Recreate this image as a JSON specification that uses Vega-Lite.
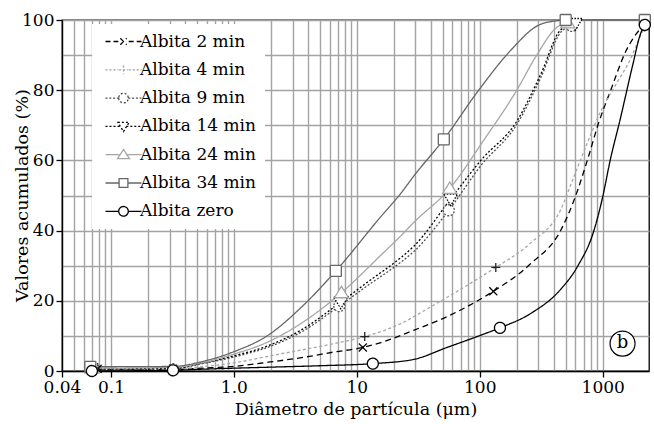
{
  "$schema": "https://vega.github.io/schema/vega-lite/v6.json",
  "width": 587,
  "height": 351,
  "autosize": "none",
  "padding": {"left": 62, "top": 20, "right": 5, "bottom": 53},
  "background": "white",
  "config": {
    "font": "DejaVu Serif",
    "view": {"stroke": "black", "strokeWidth": 1.3},
    "legend": {
      "orient": "none",
      "legendX": 30,
      "legendY": 4,
      "fillColor": "white",
      "padding": 9,
      "labelFont": "DejaVu Serif",
      "labelFontSize": 17,
      "labelColor": "black",
      "symbolSize": 64,
      "symbolStrokeWidth": 1.3,
      "symbolOpacity": 1,
      "labelOffset": 22,
      "rowPadding": 10.3
    }
  },
  "datasets": {
    "curves": [
      {"s":"Albita 2 min","d":0.078,"v":0.5},{"s":"Albita 2 min","d":0.32,"v":0.4},{"s":"Albita 2 min","d":0.54,"v":0.8},{"s":"Albita 2 min","d":1,"v":1.3},{"s":"Albita 2 min","d":1.9,"v":2.5},{"s":"Albita 2 min","d":4,"v":4.1},{"s":"Albita 2 min","d":6.5,"v":5.4},{"s":"Albita 2 min","d":11.2,"v":6.7},{"s":"Albita 2 min","d":15.7,"v":8.1},{"s":"Albita 2 min","d":29,"v":11.6},{"s":"Albita 2 min","d":55,"v":15.6},{"s":"Albita 2 min","d":96,"v":20},{"s":"Albita 2 min","d":129,"v":22.7},{"s":"Albita 2 min","d":260,"v":30.6},{"s":"Albita 2 min","d":456,"v":40.1},{"s":"Albita 2 min","d":585,"v":48.7},{"s":"Albita 2 min","d":751,"v":60.1},{"s":"Albita 2 min","d":933,"v":71},{"s":"Albita 2 min","d":1162,"v":80},{"s":"Albita 2 min","d":1538,"v":91},{"s":"Albita 2 min","d":2037,"v":97.6},{"s":"Albita 2 min","d":2200,"v":98.8},
      {"s":"Albita 4 min","d":0.075,"v":0.6},{"s":"Albita 4 min","d":0.32,"v":0.5},{"s":"Albita 4 min","d":0.54,"v":1.2},{"s":"Albita 4 min","d":1,"v":2.3},{"s":"Albita 4 min","d":1.9,"v":4.2},{"s":"Albita 4 min","d":6.5,"v":7.8},{"s":"Albita 4 min","d":11.6,"v":9.8},{"s":"Albita 4 min","d":22.8,"v":13.5},{"s":"Albita 4 min","d":40,"v":18.3},{"s":"Albita 4 min","d":102,"v":26.8},{"s":"Albita 4 min","d":135,"v":29.5},{"s":"Albita 4 min","d":260,"v":36.5},{"s":"Albita 4 min","d":456,"v":46},{"s":"Albita 4 min","d":585,"v":55.5},{"s":"Albita 4 min","d":750,"v":65},{"s":"Albita 4 min","d":964,"v":74},{"s":"Albita 4 min","d":1300,"v":82},{"s":"Albita 4 min","d":1690,"v":89},{"s":"Albita 4 min","d":2000,"v":95},{"s":"Albita 4 min","d":2200,"v":98},
      {"s":"Albita 9 min","d":0.07,"v":0.3},{"s":"Albita 9 min","d":0.32,"v":0.6},{"s":"Albita 9 min","d":0.54,"v":2},{"s":"Albita 9 min","d":1,"v":4},{"s":"Albita 9 min","d":1.9,"v":6.8},{"s":"Albita 9 min","d":3.5,"v":11},{"s":"Albita 9 min","d":7.2,"v":18.5},{"s":"Albita 9 min","d":12.2,"v":24.3},{"s":"Albita 9 min","d":22.8,"v":31},{"s":"Albita 9 min","d":29,"v":34},{"s":"Albita 9 min","d":56,"v":45.8},{"s":"Albita 9 min","d":102,"v":58.5},{"s":"Albita 9 min","d":203,"v":70.6},{"s":"Albita 9 min","d":313,"v":83.5},{"s":"Albita 9 min","d":456,"v":96.5},{"s":"Albita 9 min","d":560,"v":98.3},
      {"s":"Albita 14 min","d":0.07,"v":0.6},{"s":"Albita 14 min","d":0.32,"v":0.7},{"s":"Albita 14 min","d":0.54,"v":2.2},{"s":"Albita 14 min","d":1,"v":4.3},{"s":"Albita 14 min","d":1.9,"v":7.2},{"s":"Albita 14 min","d":3.5,"v":11.6},{"s":"Albita 14 min","d":7.4,"v":19.6},{"s":"Albita 14 min","d":12.2,"v":25.3},{"s":"Albita 14 min","d":22.8,"v":32.3},{"s":"Albita 14 min","d":29,"v":35.5},{"s":"Albita 14 min","d":58,"v":49},{"s":"Albita 14 min","d":102,"v":60},{"s":"Albita 14 min","d":203,"v":71.5},{"s":"Albita 14 min","d":313,"v":84.5},{"s":"Albita 14 min","d":456,"v":97.2},{"s":"Albita 14 min","d":600,"v":99},
      {"s":"Albita 24 min","d":0.07,"v":0.8},{"s":"Albita 24 min","d":0.32,"v":1},{"s":"Albita 24 min","d":0.54,"v":2.3},{"s":"Albita 24 min","d":1,"v":4.8},{"s":"Albita 24 min","d":1.9,"v":8.3},{"s":"Albita 24 min","d":3.5,"v":13.5},{"s":"Albita 24 min","d":7.5,"v":22.3},{"s":"Albita 24 min","d":15.7,"v":33},{"s":"Albita 24 min","d":22.8,"v":38.5},{"s":"Albita 24 min","d":29,"v":42.3},{"s":"Albita 24 min","d":57,"v":52},{"s":"Albita 24 min","d":108,"v":65.8},{"s":"Albita 24 min","d":200,"v":80},{"s":"Albita 24 min","d":285,"v":89.5},{"s":"Albita 24 min","d":427,"v":98},{"s":"Albita 24 min","d":520,"v":99.2},
      {"s":"Albita 34 min","d":0.068,"v":1.2},{"s":"Albita 34 min","d":0.32,"v":1.3},{"s":"Albita 34 min","d":0.54,"v":2.6},{"s":"Albita 34 min","d":1,"v":5.5},{"s":"Albita 34 min","d":1.9,"v":10.2},{"s":"Albita 34 min","d":3.5,"v":18},{"s":"Albita 34 min","d":6.75,"v":28.5},{"s":"Albita 34 min","d":15.7,"v":44},{"s":"Albita 34 min","d":22.8,"v":50.6},{"s":"Albita 34 min","d":29,"v":55.5},{"s":"Albita 34 min","d":51,"v":66},{"s":"Albita 34 min","d":98,"v":80},{"s":"Albita 34 min","d":179,"v":91.4},{"s":"Albita 34 min","d":300,"v":98.5},{"s":"Albita 34 min","d":427,"v":99.8},{"s":"Albita 34 min","d":500,"v":100},{"s":"Albita 34 min","d":2200,"v":100},
      {"s":"Albita zero","d":0.07,"v":0},{"s":"Albita zero","d":0.32,"v":0.2},{"s":"Albita zero","d":0.54,"v":0.5},{"s":"Albita zero","d":1,"v":0.8},{"s":"Albita zero","d":2,"v":1.1},{"s":"Albita zero","d":5,"v":1.5},{"s":"Albita zero","d":13.5,"v":2.1},{"s":"Albita zero","d":29,"v":3.3},{"s":"Albita zero","d":55,"v":6.8},{"s":"Albita zero","d":102,"v":10.2},{"s":"Albita zero","d":146,"v":12.3},{"s":"Albita zero","d":260,"v":16.4},{"s":"Albita zero","d":456,"v":23.3},{"s":"Albita zero","d":622,"v":29.7},{"s":"Albita zero","d":850,"v":40.1},{"s":"Albita zero","d":1000,"v":49.6},{"s":"Albita zero","d":1150,"v":60},{"s":"Albita zero","d":1383,"v":71.5},{"s":"Albita zero","d":1742,"v":86.7},{"s":"Albita zero","d":2037,"v":96.2},{"s":"Albita zero","d":2200,"v":98.6}
    ],
    "markers": [
      {"s":"Albita 2 min","d":0.078,"v":0.6},{"s":"Albita 2 min","d":0.32,"v":0.4},{"s":"Albita 2 min","d":11.2,"v":6.7},{"s":"Albita 2 min","d":129,"v":22.7},{"s":"Albita 2 min","d":2200,"v":98.8},
      {"s":"Albita 4 min","d":0.075,"v":0.6},{"s":"Albita 4 min","d":0.32,"v":0.5},{"s":"Albita 4 min","d":11.6,"v":9.8},{"s":"Albita 4 min","d":135,"v":29.5},{"s":"Albita 4 min","d":2200,"v":98},
      {"s":"Albita 9 min","d":0.07,"v":0.3},{"s":"Albita 9 min","d":0.32,"v":0.5},{"s":"Albita 9 min","d":7.2,"v":18.5},{"s":"Albita 9 min","d":56,"v":45.8},{"s":"Albita 9 min","d":560,"v":98.3},
      {"s":"Albita 14 min","d":0.07,"v":0.6},{"s":"Albita 14 min","d":7.4,"v":19.6},{"s":"Albita 14 min","d":58,"v":49},{"s":"Albita 14 min","d":600,"v":99},
      {"s":"Albita 24 min","d":0.07,"v":0.8},{"s":"Albita 24 min","d":7.5,"v":22.3},{"s":"Albita 24 min","d":57,"v":52},{"s":"Albita 24 min","d":520,"v":99.2},
      {"s":"Albita 34 min","d":0.068,"v":1.2},{"s":"Albita 34 min","d":6.75,"v":28.5},{"s":"Albita 34 min","d":51,"v":66},{"s":"Albita 34 min","d":500,"v":100},{"s":"Albita 34 min","d":2200,"v":100},
      {"s":"Albita zero","d":0.07,"v":0},{"s":"Albita zero","d":0.32,"v":0.2},{"s":"Albita zero","d":13.5,"v":2.1},{"s":"Albita zero","d":146,"v":12.3},{"s":"Albita zero","d":2200,"v":98.6}
    ],
    "note": [{"d":1450,"v":7.8,"t":"b"}]
  },
  "encoding": {
    "x": {
      "field": "d", "type": "quantitative",
      "scale": {"type": "log", "domain": [0.04, 2380], "nice": false},
      "axis": {
        "values": [0.04,0.05,0.06,0.07,0.08,0.09,0.1,0.2,0.3,0.4,0.5,0.6,0.7,0.8,0.9,1,2,3,4,5,6,7,8,9,10,20,30,40,50,60,70,80,90,100,200,300,400,500,600,700,800,900,1000],
        "title": "Diâmetro de partícula (μm)",
        "labelExpr": "datum.value == 0.04 ? '0.04' : datum.value == 0.1 ? '0.1' : datum.value == 1 ? '1.0' : datum.value == 10 ? '10' : datum.value == 100 ? '100' : datum.value == 1000 ? '1000' : ''",
        "grid": true, "gridColor": "#a3a3a3", "gridWidth": 1.4,
        "domainColor": "black", "domainWidth": 1.3,
        "tickColor": "black", "tickWidth": 1.3, "tickSize": 6,
        "tickOpacity": {"condition": {"test": "datum.value == 0.04 || datum.value == 0.1 || datum.value == 1 || datum.value == 10 || datum.value == 100 || datum.value == 1000", "value": 1}, "value": 0},
        "labelFont": "DejaVu Serif", "labelFontSize": 17, "labelColor": "black", "labelPadding": 2,
        "labelFlush": false, "labelOverlap": false,
        "titleFont": "DejaVu Serif", "titleFontSize": 17.5, "titleFontWeight": "normal", "titleColor": "black", "titlePadding": 5
      }
    },
    "y": {
      "field": "v", "type": "quantitative",
      "scale": {"domain": [0, 100], "nice": false},
      "axis": {
        "values": [0,10,20,30,40,50,60,70,80,90,100],
        "title": "Valores acumulados (%)",
        "labelExpr": "datum.value % 20 == 0 ? datum.label : ''",
        "grid": true, "gridColor": "#a3a3a3", "gridWidth": 1.4,
        "domainColor": "black", "domainWidth": 1.3,
        "tickColor": "black", "tickWidth": 1.3, "tickSize": 6,
        "tickOpacity": {"condition": {"test": "datum.value % 20 == 0", "value": 1}, "value": 0},
        "labelFont": "DejaVu Serif", "labelFontSize": 17, "labelColor": "black", "labelPadding": 2,
        "labelFlush": false, "labelOverlap": false,
        "titleFont": "DejaVu Serif", "titleFontSize": 17.5, "titleFontWeight": "normal", "titleColor": "black",
        "titleAngle": 270, "titleBaseline": "middle", "titleAlign": "center", "titleX": -40, "titleY": 175
      }
    }
  },
  "layer": [
    {
      "data": {"name": "curves"},
      "mark": {"type": "line", "interpolate": "monotone", "strokeWidth": 1.3},
      "encoding": {
        "color": {"field": "s", "type": "nominal", "legend": null,
          "scale": {"domain": ["Albita 2 min","Albita 4 min","Albita 9 min","Albita 14 min","Albita 24 min","Albita 34 min","Albita zero"],
                    "range": ["#000000","#a6a6a6","#4d4d4d","#000000","#a6a6a6","#666666","#000000"]}},
        "strokeDash": {"field": "s", "type": "nominal", "legend": null,
          "scale": {"domain": ["Albita 2 min","Albita 4 min","Albita 9 min","Albita 14 min","Albita 24 min","Albita 34 min","Albita zero"],
                    "range": [[6,4],[3,2.5],[2,1.8],[2,2],[1,0],[1,0],[1,0]]}}
      }
    },
    {
      "data": {"name": "markers"},
      "mark": {"type": "point", "filled": false, "fill": "white", "strokeWidth": 1.3, "size": 100, "opacity": 1},
      "encoding": {
        "color": {"field": "s", "type": "nominal", "legend": null,
          "scale": {"domain": ["Albita 2 min","Albita 4 min","Albita 9 min","Albita 14 min","Albita 24 min","Albita 34 min","Albita zero"],
                    "range": ["#000000","#222222","#555555","#000000","#a6a6a6","#666666","#000000"]}},
        "shape": {"field": "s", "type": "nominal", "legend": null,
          "scale": {"domain": ["Albita 2 min","Albita 4 min","Albita 9 min","Albita 14 min","Albita 24 min","Albita 34 min","Albita zero"],
                    "range": ["M-0.8,-0.8L0.8,0.8M-0.8,0.8L0.8,-0.8","M-0.9,0L0.9,0M0,-0.9L0,0.9","M-1.1,0A1.1,1.1 0 1,0 1.1,0A1.1,1.1 0 1,0 -1.1,0","M-1.4,-1L1.4,-1L0,1.3Z","M0,-1.3L1.4,1L-1.4,1Z","M-1.1,-1.1L1.1,-1.1L1.1,1.1L-1.1,1.1Z","M-1.1,0A1.1,1.1 0 1,0 1.1,0A1.1,1.1 0 1,0 -1.1,0"]}},
        "strokeDash": {"field": "s", "type": "nominal", "legend": null,
          "scale": {"domain": ["Albita 2 min","Albita 4 min","Albita 9 min","Albita 14 min","Albita 24 min","Albita 34 min","Albita zero"],
                    "range": [[1,0],[1,0],[2,1.5],[1.5,1.5],[1,0],[1,0],[1,0]]}}
      }
    },
    {
      "data": {"name": "markers"},
      "mark": {"type": "point", "filled": false, "opacity": 0},
      "encoding": {
        "color": {"field": "s", "type": "nominal", "legend": {"title": null, "symbolOpacity": 1},
          "scale": {"domain": ["Albita 2 min","Albita 4 min","Albita 9 min","Albita 14 min","Albita 24 min","Albita 34 min","Albita zero"],
                    "range": ["#000000","#999999","#4d4d4d","#000000","#a6a6a6","#666666","#000000"]}},
        "shape": {"field": "s", "type": "nominal", "legend": {"title": null, "symbolOpacity": 1},
          "scale": {"domain": ["Albita 2 min","Albita 4 min","Albita 9 min","Albita 14 min","Albita 24 min","Albita 34 min","Albita zero"],
                    "range": [
                      "M-1,0L2.2,0M4.8,0L8,0M2.7,-0.8L4.3,0.8M2.7,0.8L4.3,-0.8",
                      "M-1,0L2.2,0M4.8,0L8,0M2.4,0L4.6,0M3.5,-1.1L3.5,1.1",
                      "M-1,0L2.3,0M4.7,0L8,0M2.3,0A1.2,1.2 0 1,0 4.7,0A1.2,1.2 0 1,0 2.3,0",
                      "M-1,0L2.8,0M4.2,0L8,0M2.1,-1L4.9,-1L3.5,1.3Z",
                      "M-1,0L2.65,0M4.35,0L8,0M3.5,-1.3L5,1L2,1Z",
                      "M-1,0L2.4,0M4.6,0L8,0M2.4,-1.1L4.6,-1.1L4.6,1.1L2.4,1.1Z",
                      "M-1,0L2.3,0M4.7,0L8,0M2.3,0A1.2,1.2 0 1,0 4.7,0A1.2,1.2 0 1,0 2.3,0"]}},
        "strokeDash": {"field": "s", "type": "nominal", "legend": {"title": null, "symbolOpacity": 1},
          "scale": {"domain": ["Albita 2 min","Albita 4 min","Albita 9 min","Albita 14 min","Albita 24 min","Albita 34 min","Albita zero"],
                    "range": [[5,3],[2,2],[2,1.8],[2,2],[1,0],[1,0],[1,0]]}}
      }
    },
    {
      "data": {"name": "note"},
      "mark": {"type": "point", "shape": "circle", "size": 625, "filled": false, "fill": "white", "stroke": "black", "strokeWidth": 1.2, "opacity": 1}
    },
    {
      "data": {"name": "note"},
      "mark": {"type": "text", "font": "DejaVu Serif", "fontSize": 18, "color": "black", "baseline": "middle", "align": "center", "dy": -1},
      "encoding": {"text": {"field": "t"}}
    }
  ],
  "resolve": {"scale": {"color": "independent", "shape": "independent", "strokeDash": "independent"}}
}
